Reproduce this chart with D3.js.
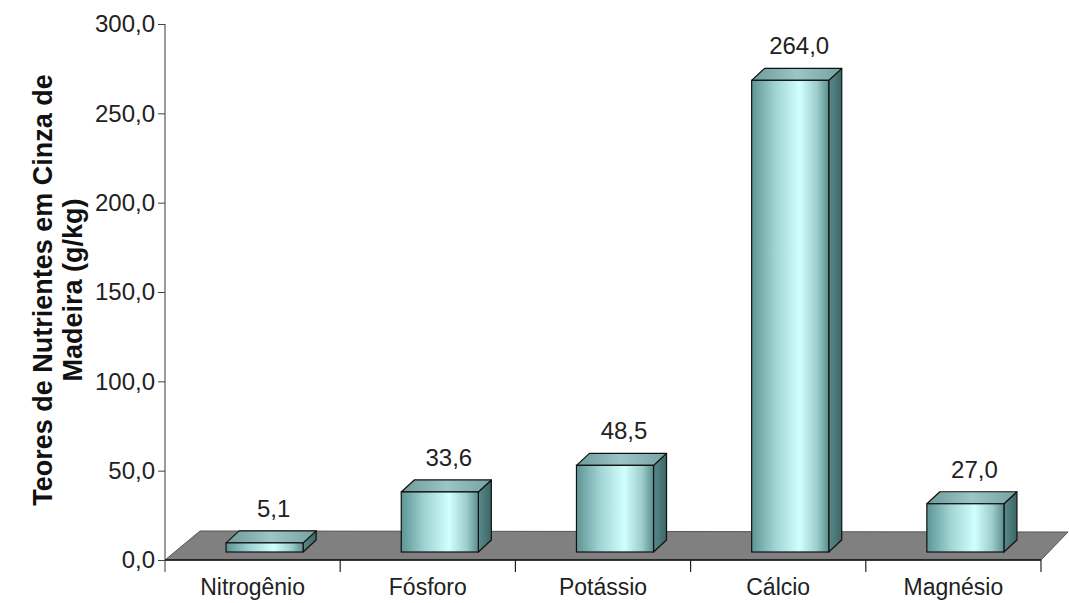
<!DOCTYPE html>
<html><head><meta charset="utf-8">
<script src="https://cdn.jsdelivr.net/npm/d3@7"></script>
<style>body{margin:0;background:#fff}svg{display:block}</style>
</head><body>
<svg id="c" width="1069" height="603"></svg>
<script>
const categories = ["Nitrogênio", "Fósforo", "Potássio", "Cálcio", "Magnésio"];
const values = [5.1, 33.6, 48.5, 264.0, 27.0];
const valueLabels = ["5,1", "33,6", "48,5", "264,0", "27,0"];
const yTicks = [0, 50, 100, 150, 200, 250, 300];
const yTickLabels = ["0,0", "50,0", "100,0", "150,0", "200,0", "250,0", "300,0"];
const yTitleLines = ["Teores de Nutrientes em Cinza de", "Madeira (g/kg)"];

const FONT = "'Liberation Sans', Arial, Helvetica, sans-serif";
const svg = d3.select("#c");
const x = d3.scaleBand().domain(categories).range([165, 1041]).padding(0);
const y = d3.scaleLinear().domain([0, 300]).range([560, 24]);

// gradients
const defs = svg.append("defs");
function grad(id, stops) {
  const g = defs.append("linearGradient").attr("id", id)
    .attr("x1", "0%").attr("y1", "0%").attr("x2", "100%").attr("y2", "0%");
  stops.forEach(s => g.append("stop").attr("offset", s[0]).attr("stop-color", s[1]));
}
grad("front", [["0%", "#5e9494"], ["30%", "#9fd3d3"], ["62%", "#d2ffff"], ["85%", "#9ccccc"], ["100%", "#5d8f8f"]]);
grad("top", [["0%", "#6e9a9a"], ["50%", "#9cc5c5"], ["100%", "#76a2a2"]]);
grad("side", [["0%", "#5b8a8a"], ["100%", "#3c6666"]]);

// floor
const fx0 = x.range()[0], fx1 = x.range()[1], fy = y(0);
svg.append("polygon")
  .attr("points", [[fx0, fy], [fx1, fy], [fx1 + 27, fy - 28], [fx0 + 35, fy - 29]].map(p => p.join(",")).join(" "))
  .attr("fill", "#808080").attr("stroke", "#555").attr("stroke-width", 1);

// y axis
const yAxis = svg.append("g").attr("transform", `translate(${fx0},0)`)
  .call(d3.axisLeft(y).tickValues(yTicks).tickFormat((d, i) => yTickLabels[i]).tickSize(7).tickPadding(3));
yAxis.select(".domain").attr("stroke", "#7a7a7a").attr("stroke-width", 1.5)
  .attr("d", `M0,${y(300)}V${y(0) + 12}`);
yAxis.selectAll(".tick line").attr("stroke", "#444");
yAxis.selectAll(".tick text").attr("font-family", FONT).attr("font-size", 24).attr("fill", "#222");

// x axis line and ticks
svg.append("line").attr("x1", fx0).attr("x2", fx1).attr("y1", fy).attr("y2", fy)
  .attr("stroke", "#111").attr("stroke-width", 1.5);
const bounds = categories.map(c => x(c)).concat([fx1]);
svg.selectAll("line.xt").data(bounds.slice(1)).enter().append("line").attr("class", "xt")
  .attr("x1", d => d).attr("x2", d => d).attr("y1", fy).attr("y2", fy + 12)
  .attr("stroke", "#222").attr("stroke-width", 1.2);
svg.selectAll("text.xl").data(categories).enter().append("text").attr("class", "xl")
  .attr("x", d => x(d) + x.bandwidth() / 2).attr("y", 595)
  .attr("text-anchor", "middle").attr("font-family", FONT).attr("font-size", 23).attr("fill", "#222")
  .text(d => d);

// bars
const barW = x.bandwidth() * 0.44;
const offX = 12, offY = -8, dX = 13, dY = -12;
const bars = svg.selectAll("g.bar").data(categories).enter().append("g").attr("class", "bar");
bars.each(function (c, i) {
  const g = d3.select(this);
  const left = x(c) + x.bandwidth() / 2 - barW / 2 + offX;
  const right = left + barW;
  const bottom = y(0) + offY;
  const top = y(values[i]) + offY;
  g.append("polygon").attr("points", [[right, bottom], [right + dX, bottom + dY], [right + dX, top + dY], [right, top]].map(p => p.join(",")).join(" "))
    .attr("fill", "url(#side)").attr("stroke", "#111").attr("stroke-width", 1.2).attr("stroke-linejoin", "round");
  g.append("polygon").attr("points", [[left, top], [right, top], [right + dX, top + dY], [left + dX, top + dY]].map(p => p.join(",")).join(" "))
    .attr("fill", "url(#top)").attr("stroke", "#111").attr("stroke-width", 1.2).attr("stroke-linejoin", "round");
  g.append("rect").attr("x", left).attr("y", top).attr("width", barW).attr("height", bottom - top)
    .attr("fill", "url(#front)").attr("stroke", "#111").attr("stroke-width", 1.2);
  g.append("text").attr("x", left + barW / 2 + 9).attr("y", top + dY - 14)
    .attr("text-anchor", "middle").attr("font-family", FONT).attr("font-size", 24).attr("fill", "#222")
    .text(valueLabels[i]);
});

// y title
const title = svg.append("g").attr("transform", "translate(52,290) rotate(-90)");
title.selectAll("text").data(yTitleLines).enter().append("text")
  .attr("x", 0).attr("y", (d, i) => i * 30)
  .attr("text-anchor", "middle").attr("font-family", FONT).attr("font-size", 27).attr("font-weight", "bold")
  .attr("fill", "#111").text(d => d);
</script>
</body></html>
